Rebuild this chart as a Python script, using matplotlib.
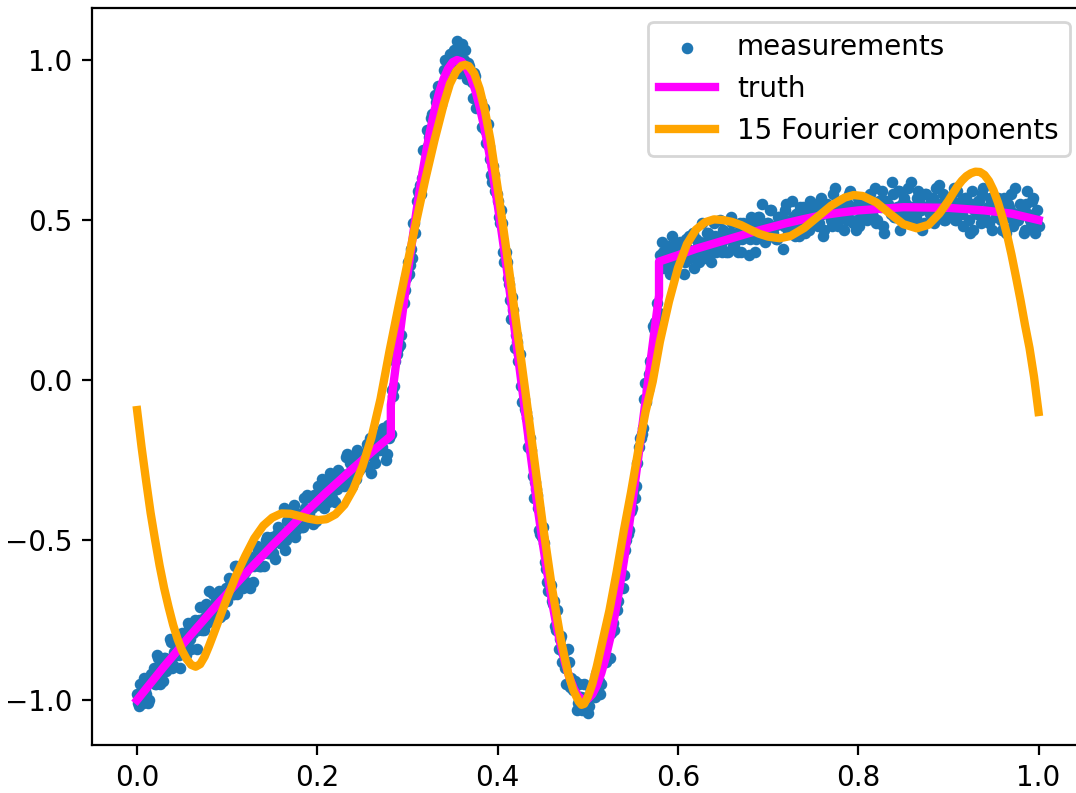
import matplotlib
matplotlib.use('Agg')
import matplotlib.pyplot as plt

# ---------------- data ----------------
# measurements, first sampling pass
meas_x_a = [
    0.0000, 0.0025, 0.0050, 0.0075, 0.0100, 0.0125, 0.0150, 0.0175, 0.0200, 0.0225,
    0.0250, 0.0275, 0.0300, 0.0325, 0.0350, 0.0375, 0.0400, 0.0425, 0.0450, 0.0475,
    0.0500, 0.0525, 0.0550, 0.0575, 0.0600, 0.0625, 0.0650, 0.0675, 0.0700, 0.0725,
    0.0750, 0.0775, 0.0800, 0.0825, 0.0850, 0.0875, 0.0900, 0.0925, 0.0950, 0.0975,
    0.1000, 0.1025, 0.1050, 0.1075, 0.1100, 0.1125, 0.1150, 0.1175, 0.1200, 0.1225,
    0.1250, 0.1275, 0.1300, 0.1325, 0.1350, 0.1375, 0.1400, 0.1425, 0.1450, 0.1475,
    0.1500, 0.1525, 0.1550, 0.1575, 0.1600, 0.1625, 0.1650, 0.1675, 0.1700, 0.1725,
    0.1750, 0.1775, 0.1800, 0.1825, 0.1850, 0.1875, 0.1900, 0.1925, 0.1950, 0.1975,
    0.2000, 0.2025, 0.2050, 0.2075, 0.2100, 0.2125, 0.2150, 0.2175, 0.2200, 0.2225,
    0.2250, 0.2275, 0.2300, 0.2325, 0.2350, 0.2375, 0.2400, 0.2425, 0.2450, 0.2475,
    0.2500, 0.2525, 0.2550, 0.2575, 0.2600, 0.2625, 0.2650, 0.2675, 0.2700, 0.2725,
    0.2750, 0.2775, 0.2800, 0.2825, 0.2850, 0.2875, 0.2900, 0.2925, 0.2950, 0.2975,
    0.3000, 0.3025, 0.3050, 0.3075, 0.3100, 0.3125, 0.3150, 0.3175, 0.3200, 0.3225,
    0.3250, 0.3275, 0.3300, 0.3325, 0.3350, 0.3375, 0.3400, 0.3425, 0.3450, 0.3475,
    0.3500, 0.3525, 0.3550, 0.3575, 0.3600, 0.3625, 0.3650, 0.3675, 0.3700, 0.3725,
    0.3750, 0.3775, 0.3800, 0.3825, 0.3850, 0.3875, 0.3900, 0.3925, 0.3950, 0.3975,
    0.4000, 0.4025, 0.4050, 0.4075, 0.4100, 0.4125, 0.4150, 0.4175, 0.4200, 0.4225,
    0.4250, 0.4275, 0.4300, 0.4325, 0.4350, 0.4375, 0.4400, 0.4425, 0.4450, 0.4475,
    0.4500, 0.4525, 0.4550, 0.4575, 0.4600, 0.4625, 0.4650, 0.4675, 0.4700, 0.4725,
    0.4750, 0.4775, 0.4800, 0.4825, 0.4850, 0.4875, 0.4900, 0.4925, 0.4950, 0.4975,
    0.5000, 0.5025, 0.5050, 0.5075, 0.5100, 0.5125, 0.5150, 0.5175, 0.5200, 0.5225,
    0.5250, 0.5275, 0.5300, 0.5325, 0.5350, 0.5375, 0.5400, 0.5425, 0.5450, 0.5475,
    0.5500, 0.5525, 0.5550, 0.5575, 0.5600, 0.5625, 0.5650, 0.5675, 0.5700, 0.5725,
    0.5750, 0.5775, 0.5800, 0.5825, 0.5850, 0.5875, 0.5900, 0.5925, 0.5950, 0.5975,
    0.6000, 0.6025, 0.6050, 0.6075, 0.6100, 0.6125, 0.6150, 0.6175, 0.6200, 0.6225,
    0.6250, 0.6275, 0.6300, 0.6325, 0.6350, 0.6375, 0.6400, 0.6425, 0.6450, 0.6475,
    0.6500, 0.6525, 0.6550, 0.6575, 0.6600, 0.6625, 0.6650, 0.6675, 0.6700, 0.6725,
    0.6750, 0.6775, 0.6800, 0.6825, 0.6850, 0.6875, 0.6900, 0.6925, 0.6950, 0.6975,
    0.7000, 0.7025, 0.7050, 0.7075, 0.7100, 0.7125, 0.7150, 0.7175, 0.7200, 0.7225,
    0.7250, 0.7275, 0.7300, 0.7325, 0.7350, 0.7375, 0.7400, 0.7425, 0.7450, 0.7475,
    0.7500, 0.7525, 0.7550, 0.7575, 0.7600, 0.7625, 0.7650, 0.7675, 0.7700, 0.7725,
    0.7750, 0.7775, 0.7800, 0.7825, 0.7850, 0.7875, 0.7900, 0.7925, 0.7950, 0.7975,
    0.8000, 0.8025, 0.8050, 0.8075, 0.8100, 0.8125, 0.8150, 0.8175, 0.8200, 0.8225,
    0.8250, 0.8275, 0.8300, 0.8325, 0.8350, 0.8375, 0.8400, 0.8425, 0.8450, 0.8475,
    0.8500, 0.8525, 0.8550, 0.8575, 0.8600, 0.8625, 0.8650, 0.8675, 0.8700, 0.8725,
    0.8750, 0.8775, 0.8800, 0.8825, 0.8850, 0.8875, 0.8900, 0.8925, 0.8950, 0.8975,
    0.9000, 0.9025, 0.9050, 0.9075, 0.9100, 0.9125, 0.9150, 0.9175, 0.9200, 0.9225,
    0.9250, 0.9275, 0.9300, 0.9325, 0.9350, 0.9375, 0.9400, 0.9425, 0.9450, 0.9475,
    0.9500, 0.9525, 0.9550, 0.9575, 0.9600, 0.9625, 0.9650, 0.9675, 0.9700, 0.9725,
    0.9750, 0.9775, 0.9800, 0.9825, 0.9850, 0.9875, 0.9900, 0.9925, 0.9950, 0.9975,
    1.0000,
]
meas_y_a = [
    -0.98, -1.02, -0.97, -0.93, -0.98, -1.01, -0.92, -0.94, -0.95, -0.86,
    -0.95, -0.89, -0.87, -0.91, -0.88, -0.82, -0.89, -0.86, -0.82, -0.90,
    -0.79, -0.81, -0.83, -0.77, -0.84, -0.79, -0.76, -0.78, -0.71, -0.78,
    -0.74, -0.76, -0.66, -0.72, -0.75, -0.69, -0.67, -0.74, -0.67, -0.69,
    -0.69, -0.62, -0.65, -0.67, -0.58, -0.64, -0.60, -0.65, -0.60, -0.57,
    -0.65, -0.56, -0.58, -0.52, -0.58, -0.58, -0.54, -0.50, -0.54, -0.52,
    -0.49, -0.56, -0.48, -0.49, -0.51, -0.40, -0.50, -0.47, -0.42, -0.46,
    -0.49, -0.42, -0.42, -0.46, -0.37, -0.41, -0.43, -0.37, -0.45, -0.37,
    -0.39, -0.35, -0.31, -0.40, -0.35, -0.31, -0.36, -0.32, -0.38, -0.28,
    -0.29, -0.32, -0.33, -0.23, -0.29, -0.30, -0.24, -0.31, -0.25, -0.24,
    -0.25, -0.27, -0.20, -0.22, -0.29, -0.20, -0.18, -0.22, -0.22, -0.15,
    -0.18, -0.23, -0.18, -0.03, -0.02, 0.13, 0.10, 0.14, 0.24, 0.28,
    0.37, 0.36, 0.38, 0.49, 0.56, 0.58, 0.58, 0.72, 0.72, 0.73,
    0.75, 0.83, 0.89, 0.85, 0.90, 0.86, 0.97, 0.97, 0.96, 1.02,
    0.96, 1.03, 1.06, 0.96, 1.05, 1.00, 0.96, 0.99, 0.94, 0.88,
    0.95, 0.88, 0.87, 0.79, 0.85, 0.74, 0.73, 0.64, 0.67, 0.59,
    0.56, 0.49, 0.49, 0.37, 0.37, 0.30, 0.19, 0.22, 0.14, 0.06,
    0.08, -0.07, -0.09, -0.12, -0.21, -0.22, -0.37, -0.34, -0.40, -0.48,
    -0.46, -0.57, -0.63, -0.63, -0.69, -0.69, -0.78, -0.84, -0.80, -0.85,
    -0.90, -0.84, -0.96, -0.95, -0.95, -1.03, -0.95, -0.99, -1.02, -1.00,
    -1.04, -0.96, -0.97, -0.99, -0.91, -0.94, -0.95, -0.87, -0.88, -0.80,
    -0.87, -0.76, -0.70, -0.72, -0.65, -0.55, -0.61, -0.50, -0.48, -0.41,
    -0.35, -0.37, -0.26, -0.18, -0.17, -0.06, -0.07, 0.02, 0.05, 0.17,
    0.18, 0.19, 0.39, 0.43, 0.35, 0.37, 0.39, 0.33, 0.42, 0.39,
    0.37, 0.43, 0.41, 0.37, 0.40, 0.45, 0.39, 0.35, 0.44, 0.42,
    0.43, 0.41, 0.38, 0.46, 0.42, 0.40, 0.49, 0.40, 0.44, 0.42,
    0.47, 0.44, 0.40, 0.46, 0.49, 0.42, 0.46, 0.44, 0.40, 0.49,
    0.48, 0.46, 0.44, 0.49, 0.40, 0.48, 0.51, 0.46, 0.47, 0.44,
    0.49, 0.53, 0.46, 0.48, 0.44, 0.51, 0.51, 0.48, 0.55, 0.46,
    0.49, 0.51, 0.45, 0.52, 0.54, 0.48, 0.49, 0.53, 0.47, 0.51,
    0.50, 0.53, 0.48, 0.55, 0.52, 0.47, 0.55, 0.53, 0.50, 0.58,
    0.51, 0.48, 0.54, 0.52, 0.55, 0.50, 0.58, 0.50, 0.54, 0.47,
    0.57, 0.53, 0.51, 0.54, 0.50, 0.58, 0.52, 0.55, 0.49, 0.56,
    0.54, 0.48, 0.56, 0.55, 0.53, 0.62, 0.51, 0.54, 0.59, 0.52,
    0.51, 0.55, 0.60, 0.52, 0.54, 0.50, 0.57, 0.56, 0.53, 0.49,
    0.58, 0.54, 0.52, 0.57, 0.55, 0.51, 0.61, 0.53, 0.50, 0.56,
    0.54, 0.57, 0.53, 0.50, 0.59, 0.55, 0.52, 0.54, 0.57, 0.50,
    0.55, 0.47, 0.54, 0.56, 0.52, 0.58, 0.51, 0.53, 0.49, 0.55,
    0.54, 0.51, 0.57, 0.52, 0.47, 0.55, 0.51, 0.54, 0.58, 0.49,
    0.52, 0.50, 0.55, 0.52, 0.47, 0.59, 0.50, 0.56, 0.47, 0.50,
    0.48,
]

# measurements, second (interleaved) sampling pass
meas_x_b = [
    0.00125, 0.00375, 0.00625, 0.00875, 0.01125, 0.01375, 0.01625, 0.01875, 0.02125, 0.02375,
    0.02625, 0.02875, 0.03125, 0.03375, 0.03625, 0.03875, 0.04125, 0.04375, 0.04625, 0.04875,
    0.05125, 0.05375, 0.05625, 0.05875, 0.06125, 0.06375, 0.06625, 0.06875, 0.07125, 0.07375,
    0.07625, 0.07875, 0.08125, 0.08375, 0.08625, 0.08875, 0.09125, 0.09375, 0.09625, 0.09875,
    0.10125, 0.10375, 0.10625, 0.10875, 0.11125, 0.11375, 0.11625, 0.11875, 0.12125, 0.12375,
    0.12625, 0.12875, 0.13125, 0.13375, 0.13625, 0.13875, 0.14125, 0.14375, 0.14625, 0.14875,
    0.15125, 0.15375, 0.15625, 0.15875, 0.16125, 0.16375, 0.16625, 0.16875, 0.17125, 0.17375,
    0.17625, 0.17875, 0.18125, 0.18375, 0.18625, 0.18875, 0.19125, 0.19375, 0.19625, 0.19875,
    0.20125, 0.20375, 0.20625, 0.20875, 0.21125, 0.21375, 0.21625, 0.21875, 0.22125, 0.22375,
    0.22625, 0.22875, 0.23125, 0.23375, 0.23625, 0.23875, 0.24125, 0.24375, 0.24625, 0.24875,
    0.25125, 0.25375, 0.25625, 0.25875, 0.26125, 0.26375, 0.26625, 0.26875, 0.27125, 0.27375,
    0.27625, 0.27875, 0.28125, 0.28375, 0.28625, 0.28875, 0.29125, 0.29375, 0.29625, 0.29875,
    0.30125, 0.30375, 0.30625, 0.30875, 0.31125, 0.31375, 0.31625, 0.31875, 0.32125, 0.32375,
    0.32625, 0.32875, 0.33125, 0.33375, 0.33625, 0.33875, 0.34125, 0.34375, 0.34625, 0.34875,
    0.35125, 0.35375, 0.35625, 0.35875, 0.36125, 0.36375, 0.36625, 0.36875, 0.37125, 0.37375,
    0.37625, 0.37875, 0.38125, 0.38375, 0.38625, 0.38875, 0.39125, 0.39375, 0.39625, 0.39875,
    0.40125, 0.40375, 0.40625, 0.40875, 0.41125, 0.41375, 0.41625, 0.41875, 0.42125, 0.42375,
    0.42625, 0.42875, 0.43125, 0.43375, 0.43625, 0.43875, 0.44125, 0.44375, 0.44625, 0.44875,
    0.45125, 0.45375, 0.45625, 0.45875, 0.46125, 0.46375, 0.46625, 0.46875, 0.47125, 0.47375,
    0.47625, 0.47875, 0.48125, 0.48375, 0.48625, 0.48875, 0.49125, 0.49375, 0.49625, 0.49875,
    0.50125, 0.50375, 0.50625, 0.50875, 0.51125, 0.51375, 0.51625, 0.51875, 0.52125, 0.52375,
    0.52625, 0.52875, 0.53125, 0.53375, 0.53625, 0.53875, 0.54125, 0.54375, 0.54625, 0.54875,
    0.55125, 0.55375, 0.55625, 0.55875, 0.56125, 0.56375, 0.56625, 0.56875, 0.57125, 0.57375,
    0.57625, 0.57875, 0.58125, 0.58375, 0.58625, 0.58875, 0.59125, 0.59375, 0.59625, 0.59875,
    0.60125, 0.60375, 0.60625, 0.60875, 0.61125, 0.61375, 0.61625, 0.61875, 0.62125, 0.62375,
    0.62625, 0.62875, 0.63125, 0.63375, 0.63625, 0.63875, 0.64125, 0.64375, 0.64625, 0.64875,
    0.65125, 0.65375, 0.65625, 0.65875, 0.66125, 0.66375, 0.66625, 0.66875, 0.67125, 0.67375,
    0.67625, 0.67875, 0.68125, 0.68375, 0.68625, 0.68875, 0.69125, 0.69375, 0.69625, 0.69875,
    0.70125, 0.70375, 0.70625, 0.70875, 0.71125, 0.71375, 0.71625, 0.71875, 0.72125, 0.72375,
    0.72625, 0.72875, 0.73125, 0.73375, 0.73625, 0.73875, 0.74125, 0.74375, 0.74625, 0.74875,
    0.75125, 0.75375, 0.75625, 0.75875, 0.76125, 0.76375, 0.76625, 0.76875, 0.77125, 0.77375,
    0.77625, 0.77875, 0.78125, 0.78375, 0.78625, 0.78875, 0.79125, 0.79375, 0.79625, 0.79875,
    0.80125, 0.80375, 0.80625, 0.80875, 0.81125, 0.81375, 0.81625, 0.81875, 0.82125, 0.82375,
    0.82625, 0.82875, 0.83125, 0.83375, 0.83625, 0.83875, 0.84125, 0.84375, 0.84625, 0.84875,
    0.85125, 0.85375, 0.85625, 0.85875, 0.86125, 0.86375, 0.86625, 0.86875, 0.87125, 0.87375,
    0.87625, 0.87875, 0.88125, 0.88375, 0.88625, 0.88875, 0.89125, 0.89375, 0.89625, 0.89875,
    0.90125, 0.90375, 0.90625, 0.90875, 0.91125, 0.91375, 0.91625, 0.91875, 0.92125, 0.92375,
    0.92625, 0.92875, 0.93125, 0.93375, 0.93625, 0.93875, 0.94125, 0.94375, 0.94625, 0.94875,
    0.95125, 0.95375, 0.95625, 0.95875, 0.96125, 0.96375, 0.96625, 0.96875, 0.97125, 0.97375,
    0.97625, 0.97875, 0.98125, 0.98375, 0.98625, 0.98875, 0.99125, 0.99375, 0.99625, 0.99875,
]
meas_y_b = [
    -1.01, -0.95, -1.01, -0.97, -0.94, -1.00, -0.93, -0.90, -0.95, -0.87,
    -0.91, -0.94, -0.87, -0.89, -0.81, -0.90, -0.85, -0.85, -0.86, -0.80,
    -0.80, -0.86, -0.76, -0.81, -0.79, -0.75, -0.84, -0.75, -0.75, -0.78,
    -0.70, -0.73, -0.75, -0.67, -0.72, -0.74, -0.66, -0.68, -0.73, -0.65,
    -0.66, -0.63, -0.67, -0.58, -0.67, -0.61, -0.63, -0.59, -0.63, -0.55,
    -0.58, -0.63, -0.57, -0.53, -0.58, -0.53, -0.58, -0.49, -0.54, -0.52,
    -0.54, -0.50, -0.46, -0.51, -0.48, -0.53, -0.44, -0.44, -0.47, -0.39,
    -0.47, -0.44, -0.42, -0.46, -0.40, -0.36, -0.42, -0.40, -0.36, -0.44,
    -0.33, -0.38, -0.36, -0.33, -0.38, -0.29, -0.37, -0.32, -0.34, -0.29,
    -0.31, -0.31, -0.24, -0.32, -0.26, -0.33, -0.26, -0.22, -0.28, -0.25,
    -0.24, -0.27, -0.21, -0.18, -0.24, -0.26, -0.21, -0.17, -0.21, -0.17,
    -0.25, -0.14, -0.17, -0.05, 0.06, 0.08, 0.11, 0.24, 0.24, 0.32,
    0.33, 0.41, 0.49, 0.46, 0.59, 0.61, 0.63, 0.65, 0.78, 0.76,
    0.82, 0.79, 0.87, 0.92, 0.89, 0.92, 1.00, 0.94, 0.98, 1.01,
    1.03, 0.98, 1.01, 0.96, 0.99, 1.03, 0.94, 0.98, 0.93, 0.96,
    0.85, 0.88, 0.87, 0.79, 0.78, 0.80, 0.69, 0.62, 0.64, 0.58,
    0.51, 0.53, 0.40, 0.40, 0.32, 0.25, 0.26, 0.10, 0.12, 0.08,
    -0.02, -0.06, -0.10, -0.21, -0.18, -0.30, -0.32, -0.36, -0.47, -0.49,
    -0.51, -0.59, -0.66, -0.64, -0.70, -0.77, -0.72, -0.81, -0.88, -0.85,
    -0.95, -0.88, -0.93, -0.97, -0.94, -1.01, -0.99, -1.03, -0.95, -0.99,
    -1.02, -0.97, -0.98, -0.92, -0.96, -0.98, -0.88, -0.87, -0.87, -0.77,
    -0.79, -0.78, -0.70, -0.69, -0.59, -0.65, -0.53, -0.47, -0.47, -0.40,
    -0.33, -0.33, -0.21, -0.18, -0.15, -0.01, -0.03, 0.06, 0.07, 0.16,
    0.24, 0.21, 0.37, 0.40, 0.36, 0.42, 0.33, 0.45, 0.36, 0.40,
    0.39, 0.42, 0.33, 0.44, 0.41, 0.38, 0.46, 0.40, 0.41, 0.37,
    0.49, 0.39, 0.43, 0.46, 0.37, 0.43, 0.45, 0.42, 0.50, 0.40,
    0.46, 0.40, 0.45, 0.51, 0.42, 0.45, 0.40, 0.49, 0.44, 0.48,
    0.47, 0.39, 0.51, 0.46, 0.44, 0.51, 0.46, 0.55, 0.43, 0.49,
    0.45, 0.53, 0.48, 0.44, 0.51, 0.50, 0.41, 0.53, 0.49, 0.48,
    0.56, 0.47, 0.52, 0.45, 0.51, 0.54, 0.46, 0.51, 0.56, 0.49,
    0.55, 0.50, 0.49, 0.57, 0.45, 0.54, 0.52, 0.53, 0.48, 0.60,
    0.50, 0.51, 0.56, 0.47, 0.52, 0.55, 0.59, 0.49, 0.54, 0.50,
    0.48, 0.56, 0.54, 0.52, 0.57, 0.53, 0.51, 0.60, 0.50, 0.55,
    0.59, 0.46, 0.56, 0.54, 0.52, 0.58, 0.51, 0.59, 0.47, 0.55,
    0.57, 0.54, 0.50, 0.62, 0.53, 0.51, 0.59, 0.55, 0.47, 0.58,
    0.54, 0.53, 0.56, 0.49, 0.60, 0.51, 0.55, 0.58, 0.50, 0.52,
    0.55, 0.51, 0.60, 0.50, 0.54, 0.56, 0.48, 0.57, 0.55, 0.46,
    0.59, 0.53, 0.52, 0.56, 0.49, 0.60, 0.50, 0.54, 0.57, 0.47,
    0.53, 0.56, 0.51, 0.50, 0.57, 0.46, 0.55, 0.53, 0.48, 0.60,
    0.50, 0.51, 0.54, 0.46, 0.55, 0.52, 0.48, 0.57, 0.46, 0.53,
]

truth_x = [
    0.0, 0.03, 0.06, 0.09, 0.12, 0.15, 0.18, 0.21, 0.24, 0.26, 0.2815,
    0.2815, 0.285, 0.290, 0.295, 0.300, 0.305, 0.310, 0.315, 0.320, 0.325,
    0.330, 0.335, 0.340, 0.345, 0.350, 0.355, 0.360, 0.365, 0.370, 0.375,
    0.380, 0.385, 0.390, 0.395, 0.400, 0.405, 0.410, 0.415, 0.420, 0.425,
    0.430, 0.435, 0.440, 0.445, 0.450, 0.455, 0.460, 0.465, 0.470, 0.475,
    0.480, 0.485, 0.490, 0.495, 0.500, 0.505, 0.510, 0.515, 0.520, 0.525,
    0.530, 0.535, 0.540, 0.545, 0.550, 0.555, 0.560, 0.565, 0.570, 0.575,
    0.579, 0.579, 0.60, 0.62, 0.65, 0.68, 0.70, 0.72, 0.74, 0.76, 0.78,
    0.80, 0.825, 0.85, 0.875, 0.90, 0.94, 0.97, 1.0,
]
truth_y = [
    -1.0, -0.895, -0.795, -0.698, -0.606, -0.517, -0.432, -0.351, -0.275, -0.226, -0.175,
    -0.078, 0.0, 0.111, 0.221, 0.328, 0.431, 0.529, 0.620, 0.703, 0.778,
    0.843, 0.898, 0.941, 0.973, 0.993, 1.000, 0.995, 0.978, 0.948, 0.907,
    0.854, 0.792, 0.719, 0.637, 0.548, 0.451, 0.349, 0.243, 0.133, 0.022,
    -0.089, -0.199, -0.307, -0.411, -0.510, -0.602, -0.687, -0.764, -0.830, -0.887,
    -0.933, -0.967, -0.990, -0.999, -0.997, -0.982, -0.955, -0.916, -0.866, -0.805,
    -0.734, -0.654, -0.566, -0.471, -0.370, -0.264, -0.155, -0.044, 0.067, 0.177,
    0.264, 0.37, 0.39, 0.41, 0.435, 0.46, 0.475, 0.49, 0.503, 0.515, 0.523,
    0.53, 0.535, 0.54, 0.539, 0.538, 0.53, 0.52, 0.50,
]

four_x = [
    0.000, 0.005, 0.010, 0.015, 0.020, 0.025, 0.030, 0.035, 0.040, 0.045,
    0.050, 0.055, 0.060, 0.065, 0.070, 0.075, 0.080, 0.085, 0.090, 0.095,
    0.100, 0.110, 0.120, 0.130, 0.140, 0.150, 0.160, 0.170, 0.180, 0.190,
    0.200, 0.210, 0.220, 0.230, 0.240, 0.250, 0.260, 0.270, 0.280, 0.290,
    0.300, 0.310, 0.320, 0.330, 0.340, 0.347, 0.354, 0.360, 0.364, 0.368,
    0.374, 0.380, 0.386, 0.392, 0.400, 0.410, 0.420, 0.430, 0.440, 0.450,
    0.460, 0.470, 0.478, 0.484, 0.490, 0.493, 0.496, 0.500, 0.505, 0.510,
    0.516, 0.524, 0.532, 0.540, 0.548, 0.556, 0.564, 0.572, 0.580, 0.590,
    0.600, 0.610, 0.620, 0.630, 0.640, 0.650, 0.660, 0.670, 0.680, 0.690,
    0.700, 0.713, 0.725, 0.740, 0.755, 0.770, 0.785, 0.795, 0.805, 0.820,
    0.835, 0.850, 0.865, 0.878, 0.890, 0.900, 0.905, 0.910, 0.915, 0.920,
    0.925, 0.930, 0.935, 0.940, 0.945, 0.950, 0.955, 0.960, 0.965, 0.970,
    0.975, 0.980, 0.985, 0.990, 0.995, 1.000,
]
four_y = [
    -0.094, -0.21, -0.315, -0.415, -0.50, -0.58, -0.65, -0.71, -0.765, -0.81,
    -0.846, -0.872, -0.89, -0.896, -0.888, -0.864, -0.830, -0.793, -0.755, -0.717,
    -0.68, -0.61, -0.55, -0.495, -0.455, -0.43, -0.417, -0.418, -0.425, -0.433,
    -0.438, -0.435, -0.42, -0.39, -0.34, -0.27, -0.18, -0.06, 0.09, 0.23,
    0.365, 0.50, 0.63, 0.75, 0.86, 0.925, 0.965, 0.982, 0.985, 0.981,
    0.958, 0.91, 0.84, 0.75, 0.60, 0.40, 0.19, -0.02, -0.235, -0.45,
    -0.645, -0.81, -0.915, -0.97, -1.005, -1.015, -1.012, -0.99, -0.95, -0.895,
    -0.82, -0.72, -0.60, -0.47, -0.35, -0.22, -0.10, -0.005, 0.12, 0.245,
    0.35, 0.425, 0.47, 0.493, 0.502, 0.50, 0.494, 0.484, 0.47, 0.457,
    0.448, 0.443, 0.45, 0.475, 0.51, 0.545, 0.57, 0.578, 0.575, 0.555,
    0.52, 0.487, 0.474, 0.485, 0.52, 0.56, 0.583, 0.605, 0.623, 0.637,
    0.646, 0.651, 0.650, 0.641, 0.622, 0.593, 0.555, 0.508, 0.455, 0.392,
    0.322, 0.25, 0.172, 0.10, 0.01, -0.10,
]

labels = ['measurements', 'truth', '15 Fourier components']

# ---------------- figure ----------------
DPI = 200
fig = plt.figure(figsize=(1076 / DPI, 793 / DPI), dpi=DPI)
ax = fig.add_axes([92 / 1076, 48 / 793, 991.6 / 1076, 737 / 793])

na = min(len(meas_x_a), len(meas_y_a))
nb = min(len(meas_x_b), len(meas_y_b))
meas_x = meas_x_a[:na] + meas_x_b[:nb]
meas_y = meas_y_a[:na] + meas_y_b[:nb]

ax.scatter(meas_x, meas_y, s=10, color='#1f77b4', label=labels[0], zorder=2)
ax.plot(truth_x, truth_y, color='magenta', lw=3, label=labels[1], zorder=3)
ax.plot(four_x, four_y, color='orange', lw=3, label=labels[2], zorder=4)

ax.set_xlim(-0.05, 1.05)
ax.set_ylim(-1.1406, 1.1625)
ax.set_xticks([0.0, 0.2, 0.4, 0.6, 0.8, 1.0])
ax.set_yticks([-1.0, -0.5, 0.0, 0.5, 1.0])
ax.legend(loc='upper right')

fig.savefig('out.png', dpi=DPI)
